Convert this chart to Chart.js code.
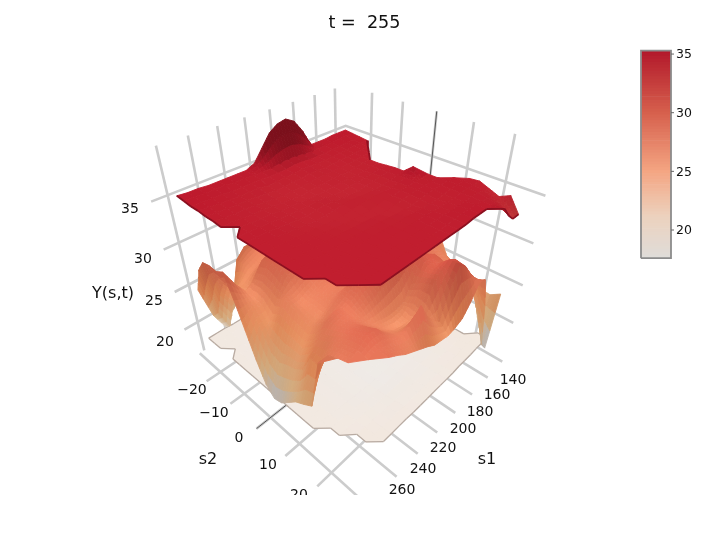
<!DOCTYPE html>
<html><head><meta charset="utf-8">
<style>html,body{margin:0;padding:0;background:#fff}#w{position:absolute;left:0;top:0;width:728px;height:495px}</style>
<script src="https://cdn.jsdelivr.net/npm/chart.js@4/dist/chart.umd.js"></script>
</head><body><div id="w"><canvas id="c" width="728" height="495"></canvas></div>
<script>
const n=null;
const s1Grid=[139,146,153,160,167,174,181,188,195,202,209,216,223,230,237,244,251,258,265,272,279];
const s2Grid=[-26,-23.4,-20.8,-18.2,-15.6,-13,-10.4,-7.8,-5.2,-2.6,0,2.6,5.2,7.8,10.4,13,15.6,18.2,20.8,23.4,26];
const s1Ticks=[140,160,180,200,220,240,260,280];
const s1TickLabels=['140','160','180','200','220','240','260'];
const s2Ticks=[-20,-10,0,10,20];
const s2TickLabels=['\u221220','\u221210','0','10','20'];
const yTicks=[20,25,30,35];
const yTickLabels=['20','25','30','35'];
const colorbarTicks=[20,25,30,35];
const midY=[
[24,25,25,25,25,25,25,25,24.5,24.5,24,23.5,23.5,23,23,22.5,21,20,18.8,21,25],
[25,26,26,26,26,26,26,25.5,26,26.5,27,27,27.5,28,28,28,27,23,19.5,22,28],
[26,27,27.5,27.5,27,27,27,26.5,27,27.5,27.5,27.5,28,28,28,27.5,27,25,23,25,29.4],
[27,28,29,29,28.5,28,27.5,27.5,27.5,27.5,27.5,27.5,27.5,27.5,27.5,27,26.5,26,25.5,27,29.6],
[27.5,28.5,29.5,30,30,29.5,29,28.5,28,27.8,27.5,27.5,27.8,28,28,27.8,27.2,26,25.5,27,29.5],
[28,29,30,30.5,31,31,30,29.5,29,28.5,28,27.8,28.2,29,29.5,29.5,29,27.5,26.5,28,30],
[28.5,29.5,30.5,31,31.5,31.5,31,30,29.5,29,28.5,28.2,28.5,29.2,29.8,30,29.5,27.8,26.5,27,27.5],
[29,30,31,31.5,32,32,31.5,31,30,29.5,29,28.5,28.5,29,29.5,29.8,29.2,27.5,26.2,26,24.5],
[29,30,31,32,32,32,31.5,31,30.5,30,29.5,29,28.5,28.5,29,29.2,28.5,27,25,24.5,21.5],
[28.5,29.5,30.5,31.5,32,32,31.5,31,30.5,30,29.5,29.3,29,28.5,28.3,28,27.5,27.5,25.5,22.5,19],
[28,29,30,31,31.5,31.5,31,30.5,30,29.5,29,29,28.8,28.5,28,27.5,27,27,25,22,17.9],
[28,28.5,29.5,30.5,31,31,30.5,30,29.5,29,28.5,28,28,28.2,28,27.6,27,26.5,24.8,22.5,18.2],
[27.5,28,28.5,29.5,30,30.3,30,29.5,29.5,29.3,29,28.5,28.3,28,28,27.5,26.8,26.3,24.5,22.8,19.2],
[27,27.5,28,28.5,29,29.5,29.5,30,31,31,30.5,30.5,30,29.5,29,28.3,27.5,27,25.5,23.5,20.2],
[25,26.5,27.5,28,28.5,29,29.2,30,31,31,31,30.5,30,29.5,28.8,28.3,28.8,28.3,27,25.7,20.8],
[24.5,25.8,27,27.5,28,28.5,29.5,30,30.5,30.5,30,29.5,29,28.5,28,28,28.5,28.5,27.5,25.5,21.5],
[23.6,25,26.5,27,27.5,29,30,30.5,30.5,28.5,27,26.8,26.8,27,27.2,27.8,28.6,28.8,28.2,27.5,27.5],
[23.8,24.5,25.5,26.8,27.5,28.5,29.5,30,30,29.2,27.5,26.3,26.2,26.5,27.2,28,29,29.3,28.5,28,n],
[23.4,23,25,26,27.8,29.5,30.5,31,30.5,29.5,27,26.5,26.8,27,27.5,28.3,29.5,29.5,28.8,28.3,n],
[23.3,19.5,22.5,26,27.5,29,30.3,31,29,26,26.8,28,29.8,28.8,28,28.2,28.5,28.8,28.6,n,n],
[24,17.2,18.5,24.5,28.2,28.5,26.8,25.6,25.2,25,25.2,25.4,26,26.5,27,27.5,28.2,28.8,n,n,n]
];
const topY=[
[35.3,35.3,35.3,35.2,35.2,35.2,37,38.3,38.8,38.6,38,36.8,35.6,35.2,35.2,35.2,35.2,35.2,35.3,35.3,35.4],
[35.2,35.2,35.2,35.1,35.1,35,35,35.1,35.2,35.2,35.1,35,35,35,35.1,35.1,35.2,35.2,35.2,35.3,35.3],
[35.1,35.1,35.1,35,35,34.9,34.9,34.9,35,35,34.9,34.9,34.9,35,35,35,35,35.1,35.1,35.2,35.2],
[35,35,35,34.9,34.9,34.8,34.8,34.8,34.9,34.9,34.8,34.8,34.8,34.7,34.9,34.9,34.9,35,35,35.1,35.2],
[n,34.9,34.9,34.9,34.8,34.8,34.7,34.7,34.8,34.8,34.7,34.7,34.6,34.6,34.7,34.8,34.9,34.9,35,35,35.1],
[n,n,34.9,34.8,34.8,34.7,34.7,34.7,34.7,34.7,34.6,34.6,34.5,34.5,34.6,34.7,34.8,34.9,34.9,35,35.1],
[n,n,n,34.8,34.8,34.7,34.6,34.6,34.7,34.6,34.6,34.5,34.4,34.6,34.6,34.7,34.8,34.8,34.9,35,35],
[n,n,n,34.8,34.8,34.7,34.6,34.6,34.6,34.6,34.5,34.5,34.5,34.6,34.7,34.7,34.8,34.8,34.9,35,n],
[n,n,n,34.9,34.9,34.8,34.7,34.6,34.6,34.5,34.5,34.6,34.7,34.7,34.7,34.8,34.8,34.9,34.9,35,35],
[n,n,n,35,34.9,34.8,34.7,34.6,34.5,34.5,34.6,34.7,34.8,34.7,34.6,34.7,34.8,34.9,35,35,35],
[n,n,n,35,34.9,34.8,34.7,34.6,34.6,34.7,34.8,34.8,34.7,34.6,34.6,34.7,34.8,34.9,35,35,35],
[n,n,n,35.8,35,34.9,34.8,34.8,34.8,34.8,34.8,34.7,34.6,34.6,34.7,34.8,34.9,34.9,35,35,35],
[n,n,35,35,35,34.9,34.9,34.8,34.8,34.7,34.6,34.6,34.6,34.7,34.8,34.9,34.9,35,35,35,35],
[n,n,35,35,35,35,34.9,34.8,34.7,34.6,34.6,34.7,34.8,34.8,34.9,34.9,35,35,35,35,35],
[n,35,35.1,35,35,34.9,34.8,34.7,34.7,34.7,34.8,34.9,34.9,34.9,35,35,35,35,35,35,35],
[34.9,35,35.1,35,34.9,34.8,34.8,34.8,34.9,34.9,34.9,34.9,35,35,35,35,35,35,35,35,35],
[35,35,35.1,35,34.9,34.9,34.9,34.9,35,35,35,35,35,35,35,35,35,35,35,35,n],
[34.6,34.8,35,35,35,35,35,35,35,35,35,35,35,35,35,35,35,35,35,35,n],
[34.2,34.5,34.9,35,35.1,35.1,35.1,35.1,35,35,35,35,35,35,35,35,35,35,35,n,n],
[34.7,34,34.6,35,35.1,35.1,35.1,35,35,35,35,35,35,35,35,35,35,35,n,n,n],
[33.2,33.2,34,35.1,n,n,n,n,n,n,n,n,n,n,n,n,n,n,n,n,n]
];
const lowY=[
[n,n,n,18.5,18.5,18.5,18.5,18.4,18.4,18.4,18.4,18.4,18.4,18.4,18.4,18.4,18.4,18.4,18.5,18.5,18.5],
[n,n,n,18.5,18.5,18.4,18.4,18.4,18.4,18.4,18.3,18.3,18.3,18.3,18.3,18.4,18.4,18.4,18.4,18.5,18.5],
[n,n,n,18.5,18.4,18.4,18.4,18.3,18.3,18.3,18.3,18.3,18.3,18.2,18.3,18.3,18.4,18.4,18.4,18.5,18.5],
[n,n,n,18.4,18.4,18.4,18.3,18.3,18.3,18.2,18.2,18.2,18.2,18.2,18.3,18.3,18.3,18.4,18.4,18.4,n],
[n,n,n,18.4,18.4,18.3,18.3,18.2,18.2,18.2,18.2,18.2,18.2,18.2,18.2,18.3,18.3,18.4,18.4,18.4,18.5],
[n,n,n,18.4,18.3,18.3,18.3,18.2,18.2,18.1,18.1,18.2,18.2,18.2,18.2,18.3,18.3,18.4,18.4,18.4,18.5],
[n,n,n,18.4,18.3,18.3,18.2,18.2,18.1,18.1,18.1,18.1,18.2,18.2,18.2,18.2,18.3,18.3,18.4,18.4,18.5],
[n,n,n,18.4,18.3,18.3,18.2,18.2,18.1,18,18,18.1,18.1,18.2,18.2,18.2,18.3,18.3,18.4,18.4,18.5],
[n,n,n,18.4,18.3,18.3,18.2,18.1,18.1,18,18,18,18.1,18.1,18.2,18.2,18.3,18.3,18.4,18.4,18.5],
[n,n,n,18.4,18.3,18.2,18.2,18.1,18,18,18,18,18,18.1,18.1,18.2,18.2,18.3,18.4,18.4,18.5],
[n,n,n,18.4,18.3,18.2,18.1,18.1,18,17.9,17.9,18,18,18,18.1,18.1,18.2,18.3,18.4,18.4,18.5],
[n,n,n,18.4,18.3,18.2,18.1,18,18,17.9,17.9,17.9,18,18,18,18.1,18.2,18.3,18.4,18.4,18.5],
[n,n,n,18.4,18.3,18.2,18.1,18,17.9,17.9,17.9,17.9,17.9,18,18,18.1,18.2,18.3,18.4,18.4,18.5],
[n,n,n,18.4,18.3,18.2,18.1,18,17.9,17.9,17.8,17.8,17.9,17.9,18,18.1,18.2,18.3,18.4,18.5,18.5],
[n,n,n,18.4,18.3,18.2,18.1,18,17.9,17.9,17.8,17.8,17.8,17.9,18,18.1,18.2,18.3,18.4,18.5,18.5],
[n,n,n,18.4,18.3,18.2,18.1,18,18,17.9,17.9,17.8,17.8,17.9,18,18.1,18.2,18.3,18.4,18.5,18.5],
[n,n,n,18.5,18.4,18.3,18.2,18.1,18.1,18,18,17.9,17.9,18,18.1,18.2,18.3,18.4,18.4,18.5,n],
[n,n,18.6,18.5,18.5,18.4,18.3,18.2,18.2,18.1,18.1,18.1,18.1,18.1,18.2,18.3,18.4,18.4,18.5,18.5,n],
[n,n,18.6,18.6,18.5,18.5,18.4,18.4,18.3,18.3,18.3,18.3,18.3,18.3,18.3,18.4,18.5,18.5,18.6,n,n],
[n,18.7,18.6,18.6,18.6,18.5,18.5,18.5,18.4,18.4,18.4,18.4,18.4,18.4,18.5,18.5,18.5,18.6,18.6,n,n],
[n,18.7,18.7,18.7,18.6,18.6,18.6,18.5,18.5,18.5,18.5,18.5,18.5,18.5,18.6,18.6,18.6,18.6,n,n,n]
];

const cam={f:501.6,cx:350,cy:251,S:.574,C:.819,D:2.869,sig:.03,uMid:207,uHalf:78,vMid:-1,vHalf:28.4,w35:.36,wPerY:.0609};
const yFloor=15.8,yTop=39.6;
function toUV(s1,s2){return [(s1-cam.uMid)/cam.uHalf,(s2-cam.vMid)/cam.vHalf];}
function projUV(u,v,Y){
  const w=cam.w35+cam.wPerY*(Y-35);
  const r=(v-u)/2+cam.sig*(u+v)/2, q=-(u+v)/2+cam.sig*(v-u)/2;
  const z=cam.D+cam.C*q-cam.S*w, yc=cam.S*q+cam.C*w;
  return {x:cam.cx+cam.f*r/z,y:cam.cy-cam.f*yc/z,d:z};
}
function proj(s1,s2,Y){const [u,v]=toUV(s1,s2);return projUV(u,v,Y);}

const cStops=[[0,[223,220,217]],[.2,[236,210,190]],[.42,[244,165,130]],[.7,[214,96,77]],[1,[178,24,43]]];
const cbMin=17.6,cbMax=35.3;
function colorOf(Y){
  let t=(Y-cbMin)/(cbMax-cbMin);t=Math.max(0,Math.min(1,t));
  for(let k=1;k<cStops.length;k++){ if(t<=cStops[k][0]){
    const a=cStops[k-1],b=cStops[k],f=(t-a[0])/(b[0]-a[0]);
    return a[1].map((c,m)=>c+(b[1][m]-c)*f);}}
  return cStops[4][1];
}
const clamp=(v,a,b)=>Math.max(a,Math.min(b,v));
function shaded(Y,nz){
  const c=colorOf(Y);
  const t1=clamp((Y-18.5)/2.5,0,1),t2=Y>26?clamp(1-(Y-26)/6,.3,1):1,t=t1*t2;
  const neu=.74+.33*nz;
  const over=Y>35.3?clamp(1-(Y-35.3)*.12,.8,1):1;
  const k=[neu*(1-t)+(.82+.25*nz)*t,neu*(1-t)+(.70+.36*nz)*t,neu*(1-t)+(.52+.45*nz)*t];
  return 'rgb('+c.map((v,m)=>Math.min(255,Math.round(v*k[m]*over))).join(',')+')';
}
function polyDs(pts,col,bw){
  return {data:pts,showLine:true,fill:'shape',backgroundColor:col,borderColor:col,borderWidth:bw,pointRadius:0,tension:0};
}
function lineDs(pts,col,bw){
  return {data:pts,showLine:true,fill:false,borderColor:col,backgroundColor:col,borderWidth:bw,pointRadius:0,tension:0};
}
function surface(Yg,subFn,edgeCol,edgeW,frontOnly){
  const nj=Yg.length,ni=Yg[0].length;
  const uv=(i,j)=>toUV(s1Grid[i],s2Grid[j]);
  const at=(i,j)=>(j>=0&&j<nj&&i>=0&&i<ni)?Yg[j][i]:null;
  const du=(s1Grid[1]-s1Grid[0])/cam.uHalf*.707,dv=(s2Grid[1]-s2Grid[0])/cam.vHalf*.707;
  const nzG=Yg.map((row,j)=>row.map((y,i)=>{
    if(y===null)return 1;
    const a=at(i+1,j),b=at(i-1,j),c=at(i,j+1),e=at(i,j-1);
    const sx=((a!==null?a:y)-(b!==null?b:y))/((a!==null&&b!==null)?2:1)*cam.wPerY/du;
    const sy=((c!==null?c:y)-(e!==null?e:y))/((c!==null&&e!==null)?2:1)*cam.wPerY/dv;
    return 1/Math.sqrt(1+sx*sx+sy*sy);
  }));
  const cnt=(i,j)=>(i<0||j<0||i>=ni-1||j>=nj-1)?0:[at(i,j),at(i+1,j),at(i,j+1),at(i+1,j+1)].filter(v=>v!==null).length;
  const pres=(i,j)=>cnt(i,j)>=3;
  const cells=[];const edges=[];
  const seg=(i1,j1,i2,j2)=>{
    const A=proj(s1Grid[i1],s2Grid[j1],at(i1,j1)),B=proj(s1Grid[i2],s2Grid[j2],at(i2,j2));
    edges.push(lineDs([{x:A.x,y:A.y},{x:B.x,y:B.y}],edgeCol,edgeW));
  };
  for(let j=0;j<nj-1;j++)for(let i=0;i<ni-1;i++){
    const m=cnt(i,j); if(m<3)continue;
    const both=(a,b,c,d)=>at(a,b)!==null&&at(c,d)!==null;
    if(m===4){
      const y00=at(i,j),y10=at(i+1,j),y01=at(i,j+1),y11=at(i+1,j+1);
      const n00=nzG[j][i],n10=nzG[j][i+1],n01=nzG[j+1][i],n11=nzG[j+1][i+1];
      const [u0,v0]=uv(i,j),[u1,v1]=uv(i+1,j+1);
      const bl=(a,b,c,e,f,g)=>a*(1-f)*(1-g)+b*f*(1-g)+c*(1-f)*g+e*f*g;
      const sub=subFn(Math.max(y00,y10,y01,y11)-Math.min(y00,y10,y01,y11));
      for(let a=0;a<sub;a++)for(let b=0;b<sub;b++){
        const f0=a/sub,f1=(a+1)/sub,g0=b/sub,g1=(b+1)/sub;
        const P=(f,g)=>projUV(u0+(u1-u0)*f,v0+(v1-v0)*g,bl(y00,y10,y01,y11,f,g));
        const p=[P(f0,g0),P(f1,g0),P(f1,g1),P(f0,g1)];
        const fc=(f0+f1)/2,gc=(g0+g1)/2;
        const col=shaded(bl(y00,y10,y01,y11,fc,gc),bl(n00,n10,n01,n11,fc,gc));
        const d=(p[0].d+p[1].d+p[2].d+p[3].d)/4;
        cells.push({d,ds:polyDs([p[0],p[1],p[2],p[3],p[0]].map(o=>({x:o.x,y:o.y})),col,.9)});
      }
    } else {
      const cs=[[i,j],[i+1,j],[i+1,j+1],[i,j+1]].filter(c=>at(c[0],c[1])!==null);
      const p=cs.map(c=>proj(s1Grid[c[0]],s2Grid[c[1]],at(c[0],c[1])));
      const Ym=cs.reduce((a,c)=>a+at(c[0],c[1]),0)/3,nm=cs.reduce((a,c)=>a+nzG[c[1]][c[0]],0)/3;
      const d=(p[0].d+p[1].d+p[2].d)/3;
      cells.push({d,ds:polyDs([p[0],p[1],p[2],p[0]].map(o=>({x:o.x,y:o.y})),shaded(Ym,nm),.9)});
      const missBack=at(i,j)===null;
      if(!frontOnly||!missBack){
        const ring=[[i,j],[i+1,j],[i+1,j+1],[i,j+1]];
        const open=ring.findIndex(c=>at(c[0],c[1])===null);
        const a=ring[(open+1)%4],b=ring[(open+3)%4];
        seg(a[0],a[1],b[0],b[1]);
      }
    }
    if(both(i+1,j,i+1,j+1)&&!pres(i+1,j))seg(i+1,j,i+1,j+1);
    if(both(i,j+1,i+1,j+1)&&!pres(i,j+1))seg(i,j+1,i+1,j+1);
    if(!frontOnly){
      if(both(i,j,i,j+1)&&!pres(i-1,j))seg(i,j,i,j+1);
      if(both(i,j,i+1,j)&&!pres(i,j-1))seg(i,j,i+1,j);
    }
  }
  cells.sort((a,b)=>b.d-a.d);
  return cells.map(c=>c.ds).concat(edges);
}
const draws=[];
const GRID='#cccccc',GW=2.6;
function addPath(pts,col,w){draws.push(lineDs(pts.map(p=>{const o=projUV(p[0],p[1],p[2]);return {x:o.x,y:o.y};}),col,w));}
const vS=(s)=>toUV(207,s)[1],uS=(s)=>toUV(s,-1)[0];
s1Ticks.forEach(s=>addPath([[uS(s),-1,yFloor],[uS(s),-1,yTop]],GRID,GW));
s2Ticks.forEach(s=>addPath([[-1,vS(s),yFloor],[-1,vS(s),yTop]],GRID,GW));
yTicks.forEach(y=>addPath([[1.07,-1,y],[-1,-1,y],[-1,1.07,y]],GRID,GW));
s1Ticks.forEach(s=>{const u=s===280?.985:uS(s);addPath([[u,-1,yFloor],[u,1.11,yFloor]],GRID,GW);});
s2Ticks.forEach(s=>addPath([[-1,vS(s),yFloor],[1.13,vS(s),yFloor]],GRID,GW));
addPath([[-1,vS(0),yFloor],[-1,vS(0),yTop]],'#555555',1);
addPath([[-1,vS(0),yFloor],[1.13,vS(0),yFloor]],'#555555',1);
surface(lowY,()=>1,'#b8aba2',1.3,false).forEach(d=>draws.push(d));
surface(midY,()=>3,'rgba(0,0,0,0)',0,true).forEach(d=>draws.push(d));
surface(topY,(rng)=>rng>.5?3:1,'#8c1020',1.8,true).forEach(d=>draws.push(d));
const cbX0=641,cbX1=671,cbPx=(v)=>230-(v-20)*11.73;
for(let v=cbMin;v<cbMax-.01;v+=.25){
  const c='rgb('+colorOf(v+.125).map(Math.round).join(',')+')';
  const a=cbPx(v),b=Math.max(cbPx(cbMax),cbPx(v+.25)-.7);
  draws.push(polyDs([{x:cbX0,y:a},{x:cbX1,y:a},{x:cbX1,y:b},{x:cbX0,y:b},{x:cbX0,y:a}],c,0));
}
draws.push(lineDs([{x:cbX0,y:cbPx(cbMin)},{x:cbX1,y:cbPx(cbMin)},{x:cbX1,y:cbPx(cbMax)},{x:cbX0,y:cbPx(cbMax)},{x:cbX0,y:cbPx(cbMin)}],'#8c8c8c',1.8));
colorbarTicks.forEach(v=>draws.push(lineDs([{x:cbX1,y:cbPx(v)},{x:cbX1+3,y:cbPx(v)}],'#666666',1)));

const textPlugin={id:'texts',afterDraw(ch){
  const c=ch.ctx;c.save();c.fillStyle='#111';c.textBaseline='middle';c.textAlign='center';
  const T=(s,x,y,sz)=>{c.font=sz+'px "DejaVu Sans"';c.fillText(s,x,y);};
  T('t =  255',364.5,23,17.6);
  const p1=[[513,380],[497,395],[480,412],[463,429],[443,448],[423,469],[402,490]];
  s1TickLabels.forEach((s,i)=>T(s,p1[i][0],p1[i][1],14));
  const p2=[[192,390],[214,413],[239,438],[268,465],[299,495]];
  s2TickLabels.forEach((s,i)=>T(s,p2[i][0],p2[i][1],14));
  const p3=[[165,342],[154,301],[143,259],[130,209]];
  yTickLabels.forEach((s,i)=>T(s,p3[i][0],p3[i][1],14));
  T('s1',487,460,16);T('s2',208,460,16);T('Y(s,t)',113,294,16);
  c.textAlign='left';
  colorbarTicks.forEach(v=>{c.font='12.5px "DejaVu Sans"';c.fillText(String(v),676,cbPx(v)+1);});
  c.restore();
}};
new Chart(document.getElementById('c'),{
  type:'scatter',
  data:{datasets:draws.slice().reverse()},
  options:{responsive:false,animation:false,events:[],
    layout:{padding:0},
    plugins:{legend:{display:false},tooltip:{enabled:false},title:{display:false}},
    scales:{x:{type:'linear',min:0,max:728,display:false},y:{type:'linear',min:0,max:495,reverse:true,display:false}}
  },
  plugins:[textPlugin]
});
</script></body></html>
